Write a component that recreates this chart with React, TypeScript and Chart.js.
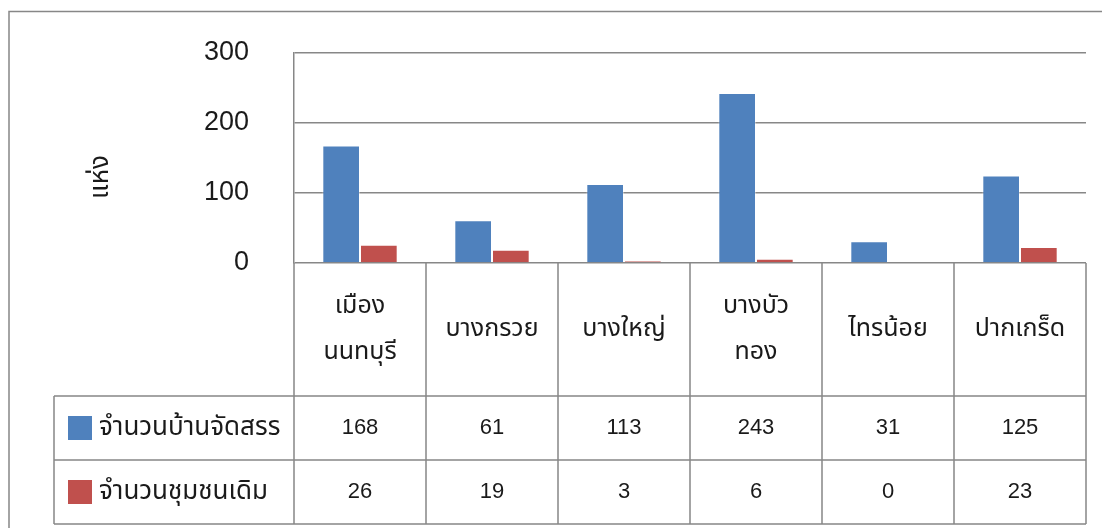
import React, { useEffect, useRef } from "react";
import { Chart, registerables } from "chart.js";

Chart.register(...registerables);

const categories: (string | string[])[] = [
  ["เมือง", "นนทบุรี"],
  "บางกรวย",
  "บางใหญ่",
  ["บางบัว", "ทอง"],
  "ไทรน้อย",
  "ปากเกร็ด",
];
const seriesNames = ["จำนวนบ้านจัดสรร", "จำนวนชุมชนเดิม"];
const housingEstates = [168, 61, 113, 243, 31, 125];
const oldCommunities = [26, 19, 3, 6, 0, 23];
const yTicks = [0, 100, 200, 300];
const yTitle = "แห่ง";

const BLUE = "#4F81BD";
const RED = "#C0504D";
const LINE = "#878787";
const TEXT = "#1a1a1a";
const FONT = "'Liberation Sans', 'Noto Sans Thai', 'Noto Sans', sans-serif";

const tablePlugin = {
  id: "dataTable",
  afterDraw(chart: any) {
    const ctx = chart.ctx as CanvasRenderingContext2D;
    const area = chart.chartArea;
    const xs = chart.scales.x;
    const n = categories.length;
    const step = xs.getPixelForValue(1) - xs.getPixelForValue(0);
    const x0 = xs.getPixelForValue(0) - step / 2;
    const xEnd = x0 + step * n;
    const top = area.bottom;
    const r1 = top + 133;
    const r2 = r1 + 64;
    const r3 = r2 + 64;
    const legendLeft = 54;

    ctx.save();
    ctx.strokeStyle = LINE;
    ctx.lineWidth = 1.5;
    ctx.beginPath();
    ctx.moveTo(9, 528);
    ctx.lineTo(9, 11.5);
    ctx.lineTo(1102, 11.5);
    for (let k = 0; k <= n; k++) {
      const x = x0 + k * step;
      ctx.moveTo(x, top);
      ctx.lineTo(x, r3);
    }
    ctx.moveTo(legendLeft, r1);
    ctx.lineTo(legendLeft, r3);
    [r1, r2, r3].forEach((y) => {
      ctx.moveTo(legendLeft, y);
      ctx.lineTo(xEnd, y);
    });
    ctx.stroke();

    ctx.fillStyle = TEXT;
    ctx.textAlign = "center";
    ctx.textBaseline = "middle";
    const rowMid1 = (top + r1) / 2;
    const rowMid2 = (r1 + r2) / 2;
    const rowMid3 = (r2 + r3) / 2;
    categories.forEach((c, i) => {
      const cx = xs.getPixelForValue(i);
      const lines = Array.isArray(c) ? c : [c];
      const lh = 46;
      ctx.font = `25px ${FONT}`;
      lines.forEach((l, j) => {
        const y = rowMid1 + (j - (lines.length - 1) / 2) * lh;
        ctx.fillText(l, cx, y);
      });
      ctx.font = `22px ${FONT}`;
      ctx.fillText(String(housingEstates[i]), cx, rowMid2);
      ctx.fillText(String(oldCommunities[i]), cx, rowMid3);
    });

    const keys = [
      { name: seriesNames[0], color: BLUE, y: rowMid2 },
      { name: seriesNames[1], color: RED, y: rowMid3 },
    ];
    ctx.textAlign = "left";
    ctx.font = `26px ${FONT}`;
    keys.forEach((k) => {
      ctx.fillStyle = k.color;
      ctx.fillRect(68, k.y - 12, 24, 24);
      ctx.fillStyle = TEXT;
      ctx.fillText(k.name, 99, k.y);
    });

    ctx.save();
    ctx.translate(101, 177);
    ctx.rotate(-Math.PI / 2);
    ctx.textAlign = "center";
    ctx.textBaseline = "middle";
    ctx.font = `26px ${FONT}`;
    ctx.fillText(yTitle, 0, 0);
    ctx.restore();

    ctx.restore();
  },
};

export default function App() {
  const ref = useRef<HTMLCanvasElement | null>(null);
  useEffect(() => {
    if (!ref.current) return;
    const chart = new Chart(ref.current, {
      type: "bar",
      data: {
        labels: categories as any,
        datasets: [
          {
            label: seriesNames[0],
            data: housingEstates,
            backgroundColor: BLUE,
            borderColor: "rgba(255,255,255,0.35)",
            borderWidth: 1,
          },
          {
            label: seriesNames[1],
            data: oldCommunities,
            backgroundColor: RED,
            borderColor: "rgba(255,255,255,0.35)",
            borderWidth: 1,
          },
        ],
      },
      options: {
        responsive: false,
        animation: false,
        layout: { padding: { top: 53, right: 16, left: 0, bottom: 0 } },
        datasets: { bar: { categoryPercentage: 0.571, barPercentage: 1.0 } },
        plugins: {
          legend: { display: false },
          tooltip: { enabled: false },
          title: { display: false },
        },
        scales: {
          x: {
            grid: { display: false },
            border: { display: false },
            ticks: { display: false },
            afterFit: (s: any) => {
              s.height = 265;
              s.paddingLeft = 0;
              s.paddingRight = 0;
            },
          },
          y: {
            min: yTicks[0],
            max: yTicks[yTicks.length - 1],
            afterBuildTicks: (s: any) => {
              s.ticks = yTicks.map((v) => ({ value: v }));
            },
            ticks: {
              font: { family: FONT, size: 27 },
              color: TEXT,
              padding: 45,
            },
            grid: { color: LINE, lineWidth: 1.5, drawTicks: false },
            border: { display: true, color: LINE, width: 1.5 },
            afterFit: (s: any) => {
              s.width = 294;
              s.paddingTop = 0;
              s.paddingBottom = 0;
            },
          },
        },
      },
      plugins: [tablePlugin],
    });
    return () => chart.destroy();
  }, []);
  return (
    <div style={{ position: "fixed", left: 0, top: 0, width: 1102, height: 528, background: "#fff" }}>
      <canvas ref={ref} width={1102} height={528} />
    </div>
  );
}
